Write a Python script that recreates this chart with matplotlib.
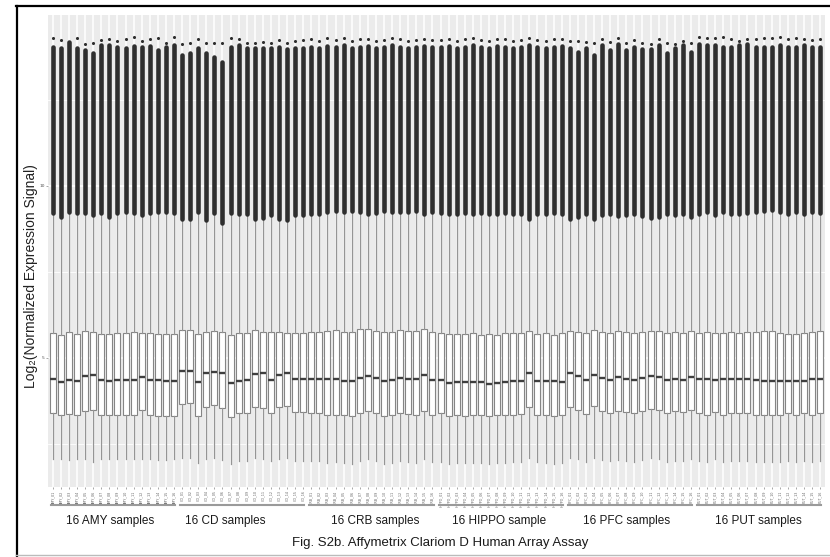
import matplotlib

matplotlib.use("Agg")
import matplotlib.pyplot as plt
from matplotlib.lines import Line2D
from matplotlib.transforms import blended_transform_factory

GROUPS = ["AMY", "CD", "CRB", "HIPPO", "PFC", "PUT"]
GROUP_LABELS = ["16 AMY samples", "16 CD samples", "16 CRB samples",
                "16 HIPPO sample", "16 PFC samples", "16 PUT samples"]
LABEL_X = [8.1, 22.3, 40.9, 56.3, 72.0, 88.3]
PER_GROUP = 16

# box statistics, one row of 16 per brain region (log2 signal)
median = [
    4.39, 4.29, 4.35, 4.33, 4.47, 4.50, 4.35, 4.33, 4.35, 4.35, 4.35, 4.46, 4.35, 4.35, 4.33, 4.33,
    4.62, 4.63, 4.29, 4.55, 4.60, 4.57, 4.26, 4.34, 4.36, 4.53, 4.55, 4.36, 4.51, 4.55, 4.39, 4.39,
    4.39, 4.39, 4.39, 4.39, 4.33, 4.33, 4.42, 4.47, 4.43, 4.32, 4.35, 4.43, 4.39, 4.39, 4.50, 4.36,
    4.36, 4.28, 4.31, 4.31, 4.31, 4.31, 4.24, 4.28, 4.29, 4.33, 4.33, 4.55, 4.33, 4.33, 4.33, 4.31,
    4.55, 4.48, 4.36, 4.51, 4.42, 4.36, 4.45, 4.40, 4.36, 4.42, 4.48, 4.46, 4.36, 4.40, 4.36, 4.45,
    4.38, 4.40, 4.36, 4.38, 4.40, 4.38, 4.40, 4.36, 4.34, 4.34, 4.34, 4.33, 4.33, 4.34, 4.40, 4.38,
]
q3 = [
    5.72, 5.67, 5.75, 5.69, 5.79, 5.76, 5.69, 5.69, 5.72, 5.72, 5.76, 5.72, 5.72, 5.69, 5.69, 5.69,
    5.81, 5.81, 5.70, 5.76, 5.78, 5.76, 5.67, 5.72, 5.72, 5.81, 5.76, 5.76, 5.76, 5.72, 5.72, 5.72,
    5.76, 5.76, 5.78, 5.81, 5.75, 5.76, 5.83, 5.83, 5.78, 5.75, 5.76, 5.81, 5.78, 5.78, 5.83, 5.75,
    5.72, 5.69, 5.69, 5.69, 5.72, 5.67, 5.69, 5.67, 5.72, 5.72, 5.72, 5.79, 5.69, 5.72, 5.67, 5.72,
    5.79, 5.76, 5.72, 5.81, 5.76, 5.72, 5.78, 5.75, 5.72, 5.76, 5.79, 5.78, 5.72, 5.75, 5.72, 5.78,
    5.72, 5.75, 5.72, 5.72, 5.75, 5.72, 5.75, 5.76, 5.78, 5.79, 5.72, 5.70, 5.70, 5.72, 5.75, 5.78,
]
q1 = [
    3.39, 3.34, 3.36, 3.34, 3.47, 3.49, 3.34, 3.34, 3.34, 3.34, 3.34, 3.49, 3.34, 3.32, 3.32, 3.31,
    3.65, 3.68, 3.31, 3.58, 3.63, 3.56, 3.29, 3.39, 3.41, 3.57, 3.55, 3.41, 3.57, 3.60, 3.44, 3.44,
    3.39, 3.39, 3.34, 3.34, 3.34, 3.31, 3.39, 3.47, 3.39, 3.31, 3.34, 3.41, 3.37, 3.34, 3.47, 3.34,
    3.39, 3.31, 3.34, 3.31, 3.34, 3.34, 3.31, 3.34, 3.34, 3.34, 3.37, 3.57, 3.34, 3.34, 3.31, 3.34,
    3.57, 3.49, 3.37, 3.60, 3.47, 3.40, 3.47, 3.43, 3.40, 3.45, 3.52, 3.50, 3.40, 3.45, 3.42, 3.48,
    3.39, 3.34, 3.44, 3.34, 3.39, 3.39, 3.39, 3.34, 3.34, 3.34, 3.34, 3.39, 3.34, 3.39, 3.34, 3.39,
]
whisker_lo = [
    2.05, 2.05, 2.04, 2.05, 2.06, 1.99, 2.05, 2.05, 2.05, 2.05, 2.05, 2.06, 2.05, 2.04, 2.04, 2.05,
    2.08, 2.10, 1.95, 2.05, 2.08, 2.03, 1.92, 2.00, 2.00, 2.08, 2.05, 2.00, 2.06, 2.08, 2.00, 2.00,
    2.00, 2.00, 1.95, 1.97, 1.95, 1.93, 2.00, 2.05, 2.00, 1.93, 1.95, 2.02, 1.98, 1.95, 2.05, 1.97,
    1.98, 1.93, 1.95, 1.95, 1.95, 1.95, 1.92, 1.95, 1.95, 1.97, 1.97, 2.08, 1.97, 1.95, 1.93, 1.95,
    2.08, 2.05, 1.97, 2.10, 2.03, 2.00, 2.03, 2.02, 1.98, 2.03, 2.08, 2.05, 1.98, 2.02, 2.00, 2.05,
    2.02, 1.98, 2.05, 1.97, 2.02, 2.00, 2.02, 1.98, 1.97, 1.97, 1.98, 2.02, 1.97, 2.00, 1.97, 2.02,
]
whisker_hi = [
    9.21, 9.11, 9.25, 9.21, 9.21, 9.16, 9.21, 9.11, 9.21, 9.25, 9.21, 9.16, 9.21, 9.25, 9.24, 9.21,
    9.03, 9.03, 9.24, 9.01, 9.21, 8.91, 9.21, 9.20, 9.20, 9.05, 9.06, 9.15, 9.05, 9.00, 9.15, 9.15,
    9.20, 9.20, 9.25, 9.28, 9.25, 9.27, 9.25, 9.20, 9.22, 9.28, 9.25, 9.25, 9.25, 9.26, 9.20, 9.25,
    9.22, 9.20, 9.20, 9.22, 9.20, 9.22, 9.20, 9.20, 9.22, 9.20, 9.20, 9.05, 9.20, 9.20, 9.22, 9.20,
    9.05, 9.10, 9.20, 9.05, 9.15, 9.20, 9.12, 9.15, 9.20, 9.12, 9.08, 9.10, 9.20, 9.15, 9.20, 9.10,
    9.20, 9.25, 9.15, 9.25, 9.20, 9.20, 9.22, 9.25, 9.28, 9.30, 9.25, 9.20, 9.25, 9.20, 9.25, 9.22,
]
# top of the dense band of outliers, and the single highest outlier
outlier_top = [
    14.05, 14.02, 14.19, 14.00, 13.95, 13.86, 14.10, 14.10, 14.05, 14.00, 14.08, 14.05, 14.08, 13.95, 14.03, 14.10,
    13.81, 13.86, 14.00, 13.86, 13.74, 13.61, 14.05, 14.10, 14.00, 14.00, 14.00, 14.00, 14.05, 13.97, 14.00, 14.02,
    14.05, 14.00, 14.08, 14.05, 14.10, 14.00, 14.05, 14.08, 14.02, 14.05, 14.10, 14.05, 14.00, 14.05, 14.08, 14.05,
    14.05, 14.08, 14.00, 14.05, 14.10, 14.05, 14.02, 14.08, 14.05, 14.00, 14.05, 14.10, 14.05, 14.02, 14.05, 14.08,
    14.00, 13.90, 14.00, 13.81, 14.10, 13.95, 14.13, 13.95, 14.05, 13.97, 13.97, 14.10, 13.86, 14.00, 14.10, 13.90,
    14.13, 14.10, 14.10, 14.05, 14.05, 14.10, 14.13, 14.05, 14.05, 14.05, 14.10, 14.05, 14.05, 14.10, 14.05, 14.05,
]
outlier_max = [
    14.29, 14.24, 14.19, 14.29, 14.13, 14.15, 14.24, 14.27, 14.22, 14.26, 14.34, 14.22, 14.27, 14.29, 14.17, 14.34,
    14.13, 14.15, 14.26, 14.15, 14.15, 14.15, 14.29, 14.26, 14.15, 14.15, 14.19, 14.17, 14.24, 14.15, 14.22, 14.25,
    14.26, 14.22, 14.29, 14.24, 14.30, 14.20, 14.26, 14.28, 14.22, 14.25, 14.30, 14.26, 14.20, 14.24, 14.28, 14.25,
    14.25, 14.28, 14.20, 14.26, 14.30, 14.24, 14.22, 14.28, 14.26, 14.20, 14.25, 14.30, 14.24, 14.22, 14.26, 14.28,
    14.22, 14.20, 14.19, 14.15, 14.26, 14.19, 14.29, 14.15, 14.24, 14.15, 14.13, 14.26, 14.15, 14.12, 14.22, 14.15,
    14.34, 14.29, 14.29, 14.34, 14.26, 14.22, 14.26, 14.26, 14.29, 14.29, 14.32, 14.26, 14.29, 14.26, 14.24, 14.26,
]

sample_names = [f"{g}_{i + 1:02d}" for g in GROUPS for i in range(PER_GROUP)]
positions = list(range(1, len(median) + 1))

fig = plt.figure(figsize=(8.3, 5.57), dpi=100)
fig.patch.set_facecolor("white")
ax = fig.add_axes([48 / 830, 1 - 487 / 557, 777 / 830, 472 / 557])
ax.set_facecolor("#ebebeb")
ax.set_xlim(0.4, len(median) + 0.6)
ax.set_ylim(1.25, 14.97)

# ggplot style grid
for y in (5, 10):
    ax.axhline(y, color="white", lw=1.2, zorder=0)
for y in (2.5, 7.5, 12.5):
    ax.axhline(y, color="white", lw=0.6, zorder=0)
for x in positions:
    ax.axvline(x, color="white", lw=1.1, zorder=0)

stats = [
    {"med": m, "q1": a, "q3": b, "whislo": lo, "whishi": hi, "fliers": []}
    for m, a, b, lo, hi in zip(median, q1, q3, whisker_lo, whisker_hi)
]
ax.bxp(stats, positions=positions, widths=0.75, showfliers=False, showcaps=False,
       patch_artist=True,
       boxprops=dict(facecolor="white", edgecolor="#858585", linewidth=0.8),
       whiskerprops=dict(color="#959595", linewidth=0.9),
       medianprops=dict(color="#3f3f3f", linewidth=1.7))

# dense outlier band and top outlier points
ax.vlines(positions, whisker_hi, outlier_top, colors="#2e2e2e", linewidth=3.3,
          capstyle="round", zorder=3)
ax.scatter(positions, outlier_max, s=5, color="#2e2e2e", linewidths=0, zorder=3)

ax.set_yticks([5, 10])
ax.set_yticklabels(["5", "10"], fontsize=3.2, color="#555555")
ax.set_xticks(positions)
ax.set_xticklabels(sample_names, rotation=90, fontsize=2.4, color="#666666")
ax.tick_params(length=1.5, width=0.4, color="#666666", pad=1)
for side in ax.spines.values():
    side.set_visible(False)

# region brackets and labels under the axis
trans = blended_transform_factory(ax.transData, ax.transAxes)
for g, label in enumerate(GROUP_LABELS):
    start = g * PER_GROUP + 0.75
    end = (g + 1) * PER_GROUP + 0.15
    ax.add_line(Line2D([start, end], [-0.039, -0.039], color="#9a9a9a", lw=1.5,
                       transform=trans, clip_on=False))
    ax.text(LABEL_X[g], -0.071, label, transform=trans, ha="center", va="center",
            fontsize=8.5, family=["Liberation Sans", "DejaVu Sans"], color="#1a1a1a")

fig.text(31 / 830, 1 - 276 / 557, "Log\u2082(Normalized Expression Signal)", rotation=90,
         ha="center", va="center", fontsize=10, family=["Liberation Sans", "DejaVu Sans"],
         color="#222222")
fig.text(440 / 830, 1 - 543 / 557, "Fig. S2b. Affymetrix Clariom D Human Array Assay",
         ha="center", va="center", fontsize=9.5, family=["Liberation Sans", "DejaVu Sans"],
         color="#1a1a1a")

# outer frame of the figure panel
fig.add_artist(Line2D([16.5 / 830, 16.5 / 830], [0, 1 - 5.5 / 557], color="black", lw=1.6))
fig.add_artist(Line2D([16 / 830, 1], [1 - 5.5 / 557, 1 - 5.5 / 557], color="black", lw=1.6))
fig.add_artist(Line2D([16 / 830, 1], [1 - 555 / 557, 1 - 555 / 557], color="#bbbbbb", lw=1.0))

fig.savefig("out.png", dpi=100)
